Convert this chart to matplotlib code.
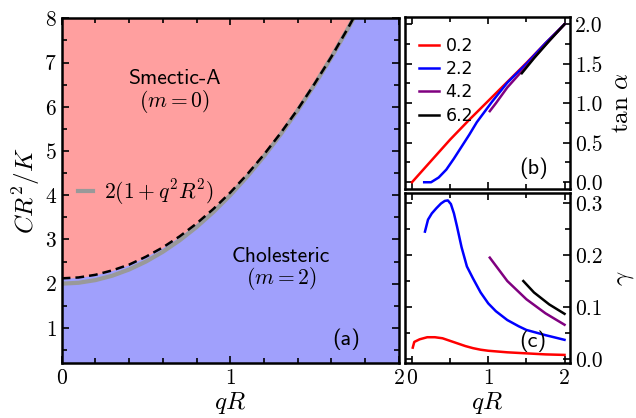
import matplotlib
matplotlib.use("Agg")
import matplotlib.pyplot as plt
from matplotlib.ticker import MultipleLocator

plt.rcParams['font.family'] = 'serif'
plt.rcParams['font.serif'] = ['cmr10']
plt.rcParams['mathtext.fontset'] = 'cm'
plt.rcParams['axes.formatter.use_mathtext'] = True
plt.rcParams['axes.unicode_minus'] = False

# (a) phase diagram
qr = [0.0, 0.1, 0.2, 0.3, 0.4, 0.5, 0.6, 0.7, 0.8, 0.9, 1.0, 1.1, 1.2, 1.3, 1.4,
      1.5, 1.6, 1.7, 1.73]
cr_boundary = [2.12, 2.14, 2.20, 2.30, 2.43, 2.61, 2.82, 3.07, 3.36, 3.69, 4.06,
               4.47, 4.92, 5.41, 5.94, 6.52, 7.13, 7.79, 8.0]
cr_approx = [2.0, 2.02, 2.08, 2.18, 2.32, 2.5, 2.72, 2.98, 3.28, 3.62, 4.0, 4.42,
             4.88, 5.38, 5.92, 6.5, 7.12, 7.78, 7.99]

# (b) tan(alpha) vs qR, one series per C R^2/K value
labels = ['0.2', '2.2', '4.2', '6.2']
colors = ['red', 'blue', 'purple', 'black']
tan_x = [
    [0.0, 0.25, 0.5, 0.75, 1.0, 1.25, 1.5, 1.75, 2.0],
    [0.16, 0.25, 0.35, 0.45, 0.55, 0.65, 0.75, 0.85, 0.95, 1.05, 1.25, 1.5, 1.75, 2.0],
    [1.02, 1.1, 1.25, 1.5, 1.75, 2.0],
    [1.44, 1.6, 1.8, 2.0],
]
tan_y = [
    [0.0, 0.27, 0.54, 0.79, 1.03, 1.27, 1.51, 1.76, 2.0],
    [0.0, 0.0, 0.06, 0.16, 0.30, 0.45, 0.60, 0.76, 0.89, 1.02, 1.26, 1.5, 1.76, 2.0],
    [0.90, 1.0, 1.2, 1.47, 1.74, 2.0],
    [1.38, 1.57, 1.79, 2.0],
]

# (c) gamma vs qR
gam_x = [
    [0.01, 0.03, 0.1, 0.2, 0.3, 0.4, 0.5, 0.6, 0.7, 0.8, 0.9, 1.0, 1.25, 1.5, 1.75, 2.0],
    [0.17, 0.21, 0.26, 0.32, 0.38, 0.43, 0.47, 0.51, 0.55, 0.59, 0.65, 0.72, 0.8,
     0.9, 1.0, 1.1, 1.25, 1.4, 1.5, 1.75, 2.0],
    [1.02, 1.25, 1.5, 1.75, 2.0],
    [1.46, 1.6, 1.8, 2.0],
]
gam_y = [
    [0.022, 0.033, 0.038, 0.042, 0.042, 0.040, 0.035, 0.030, 0.025, 0.021, 0.018,
     0.016, 0.013, 0.011, 0.009, 0.008],
    [0.245, 0.268, 0.280, 0.290, 0.299, 0.304, 0.305, 0.298, 0.280, 0.255, 0.215,
     0.178, 0.155, 0.128, 0.107, 0.092, 0.075, 0.063, 0.056, 0.046, 0.037],
    [0.195, 0.150, 0.115, 0.088, 0.066],
    [0.150, 0.128, 0.105, 0.087],
]

fig = plt.figure(figsize=(6.36, 4.18), dpi=100)
ax = fig.add_axes([0.097, 0.131, 0.530, 0.825])
axb = fig.add_axes([0.637, 0.547, 0.259, 0.412])
axc = fig.add_axes([0.637, 0.131, 0.259, 0.407])

red_fill = '#ff9f9f'
blue_fill = '#a0a0fc'

ax.set_facecolor(blue_fill)
ax.fill_between(qr, cr_boundary, 8, color=red_fill, lw=0)
ax.plot(qr, cr_approx, color='#999999', lw=3, label=r'$2(1+q^2R^2)$')
ax.plot(qr, cr_boundary, color='black', lw=1.8, ls=(0, (3.5, 2)))
ax.set_xlim(0, 2)
ax.set_ylim(0.2, 8)
ax.xaxis.set_major_locator(MultipleLocator(1))
ax.xaxis.set_minor_locator(MultipleLocator(0.2))
ax.yaxis.set_major_locator(MultipleLocator(1))
ax.yaxis.set_minor_locator(MultipleLocator(0.5))
ax.set_yticks([1, 2, 3, 4, 5, 6, 7, 8])
ax.set_xlabel(r'$qR$', fontsize=18, labelpad=2)
ax.set_ylabel(r'$CR^2/K$', fontsize=18, labelpad=2)
ax.text(0.67, 6.63, 'Smectic-A', family='cmss10', fontsize=15.5, ha='center', va='center')
ax.text(0.67, 6.13, r'$(m=0)$', fontsize=15.5, ha='center', va='center')
ax.text(1.30, 2.62, 'Cholesteric', family='cmss10', fontsize=15.5, ha='center', va='center')
ax.text(1.30, 2.12, r'$(m=2)$', fontsize=15.5, ha='center', va='center')
ax.text(1.69, 0.74, '(a)', family='cmss10', fontsize=16, ha='center', va='center')
ax.legend(loc='center left', bbox_to_anchor=(0.022, 0.495), frameon=False,
          handlelength=0.7, handletextpad=0.5, fontsize=15.5, borderaxespad=0)

for i in range(4):
    axb.plot(tan_x[i], tan_y[i], color=colors[i], lw=1.8, label=labels[i])
    axc.plot(gam_x[i], gam_y[i], color=colors[i], lw=1.8)

axb.set_xlim(-0.09, 2.07)
axb.set_ylim(-0.09, 2.09)
axb.yaxis.set_major_locator(MultipleLocator(0.5))
axb.yaxis.set_minor_locator(MultipleLocator(0.25))
axb.set_yticks([0.0, 0.5, 1.0, 1.5, 2.0])
axb.set_yticklabels(['0.0', '0.5', '1.0', '1.5', '2.0'])
axb.set_ylabel(r'$\tan\,\alpha$', fontsize=18, labelpad=6)
axb.text(1.6, 0.18, '(b)', family='cmss10', fontsize=16, ha='center', va='center')
leg = axb.legend(loc='upper left', bbox_to_anchor=(0.04, 0.925), frameon=False,
                 handlelength=1.2, handletextpad=0.35, labelspacing=0.3,
                 borderaxespad=0, prop={'family': 'DejaVu Sans', 'size': 12.5})

axc.set_xlim(-0.09, 2.07)
axc.set_ylim(-0.008, 0.319)
axc.yaxis.set_major_locator(MultipleLocator(0.1))
axc.yaxis.set_minor_locator(MultipleLocator(0.05))
axc.set_yticks([0.0, 0.1, 0.2, 0.3])
axc.set_yticklabels(['0.0', '0.1', '0.2', '0.3'])
axc.set_ylabel(r'$\gamma$', fontsize=18, labelpad=8)
axc.set_xlabel(r'$qR$', fontsize=18, labelpad=2)
axc.text(1.59, 0.035, '(c)', family='cmss10', fontsize=16, ha='center', va='center')

for a in (axb, axc):
    a.set_xticks([0, 1, 2])
    a.set_xticklabels(['0', '1', '2'])
    a.xaxis.set_minor_locator(MultipleLocator(0.5))
    a.yaxis.tick_right()
    a.yaxis.set_label_position('right')

axb.set_xticklabels([])

for a in (ax, axb, axc):
    a.tick_params(which='both', direction='in', top=True, bottom=True, left=True,
                  right=True, labelsize=15.5, width=1.2)
    a.tick_params(which='major', length=5)
    a.tick_params(which='minor', length=3.5)
    for s in a.spines.values():
        s.set_linewidth(1.8)

axb.tick_params(labelleft=False, labelright=True)
axc.tick_params(labelleft=False, labelright=True)

fig.savefig('out.png', dpi=100)
